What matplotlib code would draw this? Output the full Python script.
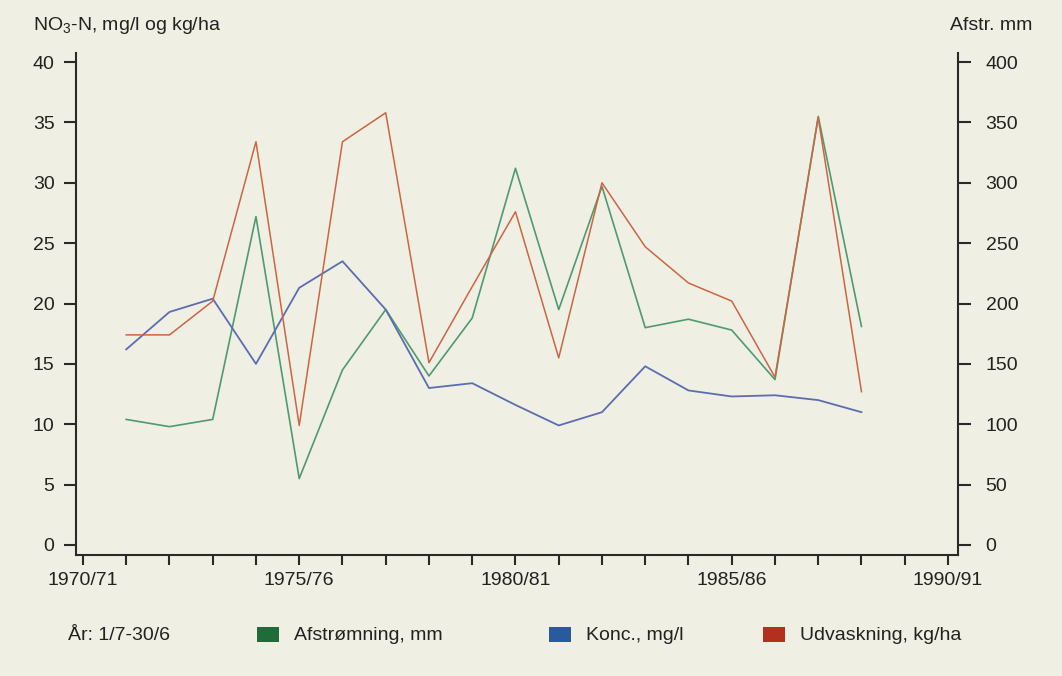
import matplotlib.pyplot as plt
from matplotlib.patches import Rectangle
from matplotlib.ticker import MultipleLocator

plt.rcParams["font.family"] = ["Liberation Sans", "DejaVu Sans"]
plt.rcParams["mathtext.fontset"] = "custom"
plt.rcParams["mathtext.rm"] = "Liberation Sans"

# hydrological years 1971/72 .. 1988/89, x = years after 1970/71
year_idx = list(range(1, 19))
tick_labels = ["1970/71", "1975/76", "1980/81", "1985/86", "1990/91"]

# runoff, mm (right axis)
afstroemning = [104, 98, 104, 272, 55, 145, 195, 140, 188, 312,
                195, 297, 180, 187, 178, 137, 355, 181]
# nitrate concentration, mg/l
konc = [16.2, 19.3, 20.4, 15.0, 21.3, 23.5, 19.5, 13.0, 13.4, 11.6,
        9.9, 11.0, 14.8, 12.8, 12.3, 12.4, 12.0, 11.0]
# leaching, kg/ha
udvaskning = [17.4, 17.4, 20.2, 33.4, 9.9, 33.4, 35.8, 15.1, 21.4, 27.6,
              15.5, 30.0, 24.7, 21.7, 20.2, 13.9, 35.4, 12.7]

bg = "#efefe4"
c_green, c_blue, c_red = "#4f9a6e", "#5b6db0", "#cc6542"
box_green, box_blue, box_red = "#1f6b3a", "#2a5a9e", "#b3301f"
axis_col = "#2a2a2a"

fig = plt.figure(figsize=(10.62, 6.76), dpi=100, facecolor=bg)
ax = fig.add_axes([0.0716, 0.179, 0.8304, 0.7426])
ax.set_facecolor(bg)
ax2 = ax.twinx()

ylo, yhi = -0.83, 40.75
ax.set_ylim(ylo, yhi)
ax2.set_ylim(ylo * 10, yhi * 10)
ax.set_xlim(-0.16, 20.23)

ax2.plot(year_idx, afstroemning, color=c_green, lw=1.2, zorder=2)
ax.plot(year_idx, konc, color=c_blue, lw=1.3, zorder=3)
ax.plot(year_idx, udvaskning, color=c_red, lw=1.1, zorder=4)
ax.set_zorder(ax2.get_zorder() + 1)
ax.patch.set_visible(False)
ax2.patch.set_visible(True)
ax2.patch.set_facecolor(bg)

for a in (ax, ax2):
    a.spines["top"].set_visible(False)
    for s in ("left", "right", "bottom"):
        a.spines[s].set_linewidth(1.5)
        a.spines[s].set_color(axis_col)

ax.spines["right"].set_visible(False)
ax2.spines["left"].set_visible(False)
ax2.spines["bottom"].set_visible(False)

ax.set_yticks(range(0, 41, 5))
ax2.set_yticks(range(0, 401, 50))
ax.xaxis.set_major_locator(MultipleLocator(5))
ax.xaxis.set_minor_locator(MultipleLocator(1))
ax.set_xticks([0, 5, 10, 15, 20])
ax.set_xticklabels(tick_labels)

ax.tick_params(axis="y", direction="out", length=8.5, width=1.5, pad=7,
               labelsize=14, color=axis_col, labelcolor="#222")
ax2.tick_params(axis="y", direction="out", length=9, width=1.5, pad=11,
                labelsize=14, color=axis_col, labelcolor="#222")
ax.tick_params(axis="x", which="both", direction="out", length=7.5, width=1.5,
               pad=5, labelsize=14, color=axis_col, labelcolor="#222")

fig.text(0.031, 0.962, r"NO$_\mathrm{3}$-N, mg/l og kg/ha", fontsize=14,
         color="#222", va="center", ha="left")
fig.text(0.972, 0.962, "Afstr. mm", fontsize=14, color="#222",
         va="center", ha="right")

# legend row
ly = 1 - 635 / 676
fig.text(68 / 1062, ly, "År: 1/7-30/6", fontsize=14, color="#222", va="center")
for x0, col, label in [(257, box_green, "Afstrømning, mm"),
                       (549, box_blue, "Konc., mg/l"),
                       (763, box_red, "Udvaskning, kg/ha")]:
    fig.patches.append(Rectangle((x0 / 1062, ly - 7 / 676), 22 / 1062, 15 / 676,
                                 transform=fig.transFigure, facecolor=col,
                                 edgecolor="none"))
    fig.text((x0 + 37) / 1062, ly, label, fontsize=14, color="#222", va="center")

fig.savefig("out.png", dpi=100, facecolor=bg)
